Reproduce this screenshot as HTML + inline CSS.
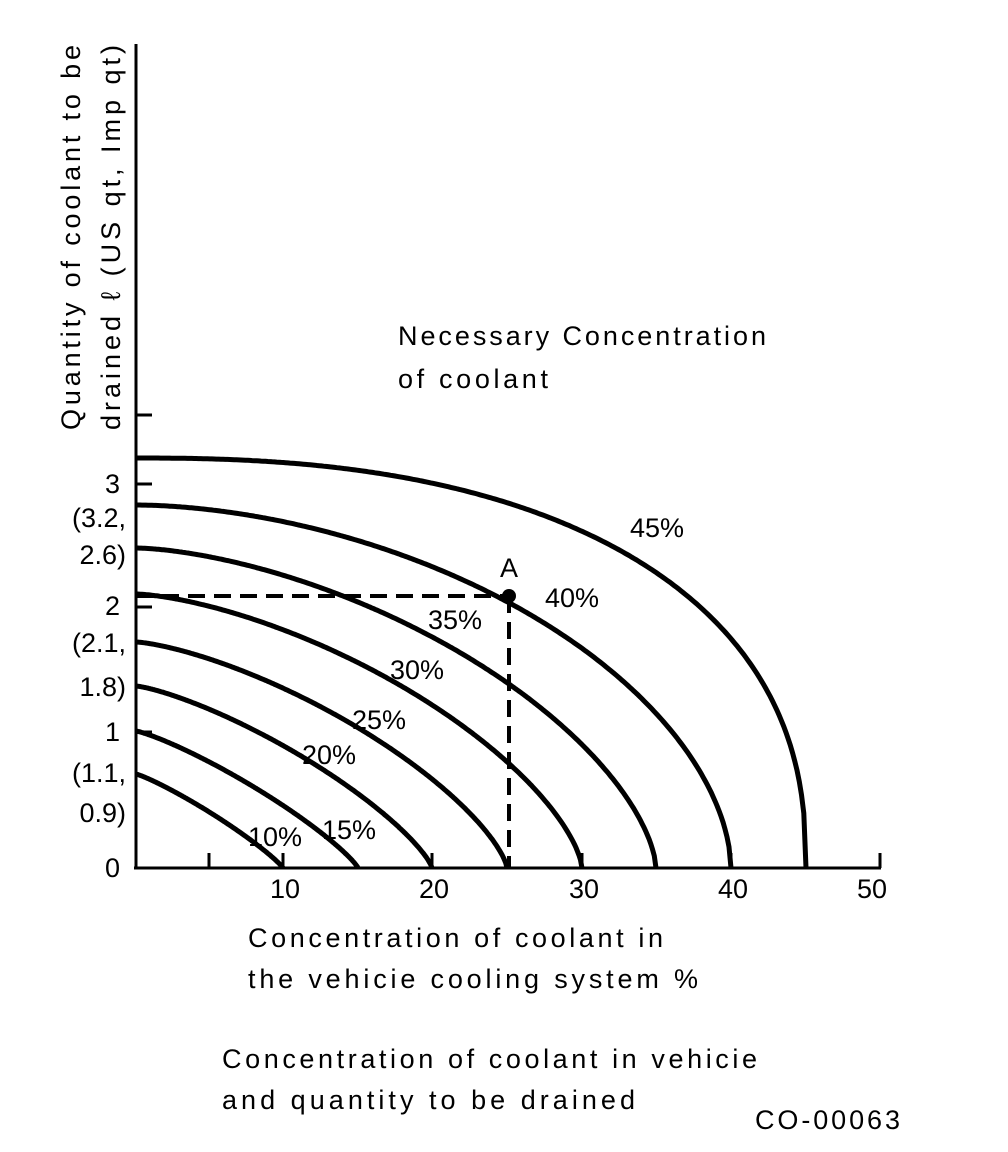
<!DOCTYPE html>
<html><head><meta charset="utf-8"><style>
html,body{margin:0;padding:0;background:#fff}
svg{display:block}
text{font-family:"Liberation Sans",Arial,sans-serif;fill:#000;font-size:27px}
</style></head><body>
<svg id="s" width="1008" height="1152" viewBox="0 0 1008 1152" xmlns="http://www.w3.org/2000/svg">
<rect width="1008" height="1152" fill="#fff"/>
<g stroke="#000" stroke-width="3" fill="none">
<line x1="136" y1="44" x2="136" y2="869"/>
<line x1="134" y1="868" x2="881" y2="868"/>
<line x1="136" y1="415" x2="152" y2="415"/>
<line x1="136" y1="484" x2="152" y2="484"/>
<line x1="136" y1="607" x2="152" y2="607"/>
<line x1="136" y1="732" x2="152" y2="732"/>
<line x1="209" y1="868" x2="209" y2="853"/>
<line x1="283" y1="868" x2="283" y2="853"/>
<line x1="432" y1="868" x2="432" y2="853"/>
<line x1="582" y1="868" x2="582" y2="853"/>
<line x1="731" y1="868" x2="731" y2="853"/>
<line x1="880" y1="868" x2="880" y2="853"/>
</g>
<g id="curves" stroke="#000" stroke-width="5" fill="none"></g>
<g stroke="#000" stroke-width="4" fill="none" stroke-dasharray="17,9">
<line x1="136" y1="596" x2="509" y2="596"/>
<line x1="509" y1="596" x2="509" y2="868"/>
</g>
<circle cx="509" cy="596" r="7" fill="#000"/>
<text x="500" y="577">A</text>
<text transform="translate(80,430) rotate(-90)" textLength="385" lengthAdjust="spacing">Quantity of coolant to be</text>
<text transform="translate(120,430) rotate(-90)" textLength="385" lengthAdjust="spacing">drained ℓ (US qt, Imp qt)</text>
<g text-anchor="end">
<text x="120" y="493">3</text>
<text x="126" y="527">(3.2,</text>
<text x="126" y="564">2.6)</text>
<text x="120" y="615">2</text>
<text x="126" y="652">(2.1,</text>
<text x="126" y="696">1.8)</text>
<text x="120" y="741">1</text>
<text x="126" y="782">(1.1,</text>
<text x="126" y="822">0.9)</text>
<text x="120" y="877">0</text>
</g>
<g text-anchor="middle">
<text x="285" y="898">10</text>
<text x="434" y="898">20</text>
<text x="584" y="898">30</text>
<text x="733" y="898">40</text>
<text x="872" y="898">50</text>
</g>
<text x="398" y="345" textLength="368" lengthAdjust="spacing">Necessary Concentration</text>
<text x="398" y="388" textLength="150" lengthAdjust="spacing">of coolant</text>
<text x="630" y="537">45%</text>
<text x="545" y="607">40%</text>
<text x="428" y="629">35%</text>
<text x="390" y="679">30%</text>
<text x="352" y="729">25%</text>
<text x="302" y="764">20%</text>
<text x="322" y="839">15%</text>
<text x="248" y="846">10%</text>
<text x="248" y="947" textLength="415" lengthAdjust="spacing">Concentration of coolant in</text>
<text x="248" y="988" textLength="450" lengthAdjust="spacing">the vehicie cooling system %</text>
<text x="222" y="1068" textLength="535" lengthAdjust="spacing">Concentration of coolant in vehicie</text>
<text x="222" y="1109" textLength="413" lengthAdjust="spacing">and quantity to be drained</text>
<text x="755" y="1129" textLength="145" lengthAdjust="spacing">CO-00063</text>
</svg>
<script>
var data=[[283,774,1.15],[358,731,1.2],[432,686,1.3],[507,642,1.4],[582,594,1.5],[656,548,1.6],[731,505,1.8],[806,458,2.4]];
var g=document.getElementById('curves'),ns='http://www.w3.org/2000/svg';
data.forEach(function(d){var a=d[0]-136,b=868-d[1],p=d[2],pts=[];
for(var i=0;i<=300;i++){var t=i/300;var x=a*t;var y=b*Math.pow(1-Math.pow(t,p),1/p);pts.push((136+x).toFixed(1)+','+(868-y).toFixed(1));}
var pl=document.createElementNS(ns,'polyline');pl.setAttribute('points',pts.join(' '));g.appendChild(pl);});
</script>
</body></html>
